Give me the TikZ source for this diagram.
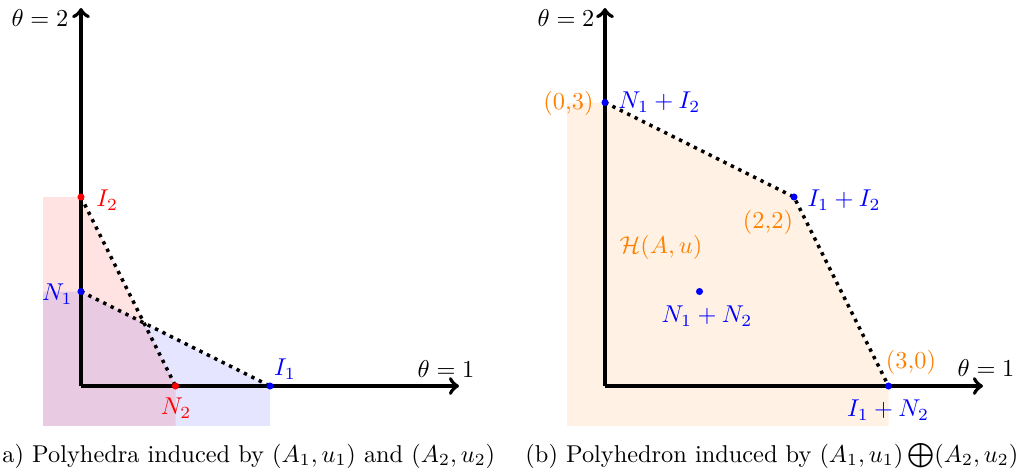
\documentclass[tikz,border=0pt]{standalone}
\usepackage{amsmath}
\begin{document}
\begin{tikzpicture}[x=0.4107pt,y=-0.4107pt,
  axis/.style={ultra thick,->},
  dotline/.style={line width=1.4pt,dotted},
  ptdot/.style={circle,fill,inner sep=0pt,minimum size=2.9pt},
  lbl/.style={inner sep=0pt},
  captext/.style={inner sep=0pt,anchor=base west}]
\useasboundingbox (0,0) rectangle (1024,475);
% ---------- left plot ----------
\coordinate (O1) at (81,386);
\coordinate (N1) at (81,291.5);
\coordinate (I2) at (81,197);
\coordinate (N2) at (175.5,386);
\coordinate (I1) at (270,386);
\coordinate (Y1) at (81,8);
\coordinate (X1) at (459,386);
\fill[blue,fill opacity=0.1] (43.2,425.8) -- (43.2,291.5) -- (N1) -- (I1) -- (270,425.8) -- cycle;
\fill[red,fill opacity=0.115] (43.2,425.8) -- (43.2,197) -- (I2) -- (N2) -- (175.5,425.8) -- cycle;
\draw[axis] (O1) -- (Y1);
\draw[axis] (O1) -- (X1);
\draw[dotline] (I2) -- (N2);
\draw[dotline] (N1) -- (I1);
\node[ptdot,red] (pI2) at (I2) {};
\node[ptdot,blue] (pN1) at (N1) {};
\node[ptdot,red] (pN2) at (N2) {};
\node[ptdot,blue] (pI1) at (I1) {};
\node[lbl,red,anchor=west] (lI2) at (96,200) {$I_2$};
\node[lbl,blue,anchor=east] (lN1) at (73,294) {$N_1$};
\node[lbl,red] (lN2) at (176,408) {$N_2$};
\node[lbl,blue] (lI1) at (285,369) {$I_1$};
\node[lbl] (t1a) at (446,369) {$\theta=1$};
\node[lbl] (t2a) at (40,18) {$\theta=2$};
% ---------- right plot ----------
\coordinate (O2) at (605,386);
\coordinate (P03) at (605,102.5);
\coordinate (P22) at (794,197);
\coordinate (P30) at (888.5,386);
\coordinate (P11) at (699.5,291.5);
\coordinate (Y2) at (605,8);
\coordinate (X2) at (983,386);
\fill[orange,fill opacity=0.1] (567.2,425.8) -- (567.2,102.5) -- (P03) -- (P22) -- (P30) -- (888.5,425.8) -- cycle;
\draw[axis] (O2) -- (Y2);
\draw[axis] (O2) -- (X2);
\draw[dotline] (P03) -- (P22) -- (P30);
\node[ptdot,blue] (pP03) at (P03) {};
\node[ptdot,blue] (pP22) at (P22) {};
\node[ptdot,blue] (pP30) at (P30) {};
\node[ptdot,blue] (pP11) at (P11) {};
\node[lbl,orange,anchor=east] (l03) at (594,103) {(0,3)};
\node[lbl,blue,anchor=west] (s03) at (618,102) {$N_1+I_2$};
\node[lbl,blue,anchor=west] (s22) at (807,200) {$I_1+I_2$};
\node[lbl,orange] (l22) at (768,222) {(2,2)};
\node[lbl,orange] (l30) at (911,362) {(3,0)};
\node[lbl,blue] (s30) at (888,410) {$I_1+N_2$};
\node[lbl,orange] (H) at (661,247) {$\mathcal{H}(A,u)$};
\node[lbl,blue] (s11) at (707,316) {$N_1+N_2$};
\node[lbl] (t1b) at (986,368) {$\theta=1$};
\node[lbl] (t2b) at (566,18) {$\theta=2$};
% ---------- captions ----------
\node[captext] (capa) at (2,462) {a) Polyhedra induced by $(A_1,u_1)$ and $(A_2,u_2)$};
\node[captext] (capb) at (525,462) {(b) Polyhedron induced by $(A_1,u_1)\bigoplus(A_2,u_2)$};
\end{tikzpicture}
\end{document}
